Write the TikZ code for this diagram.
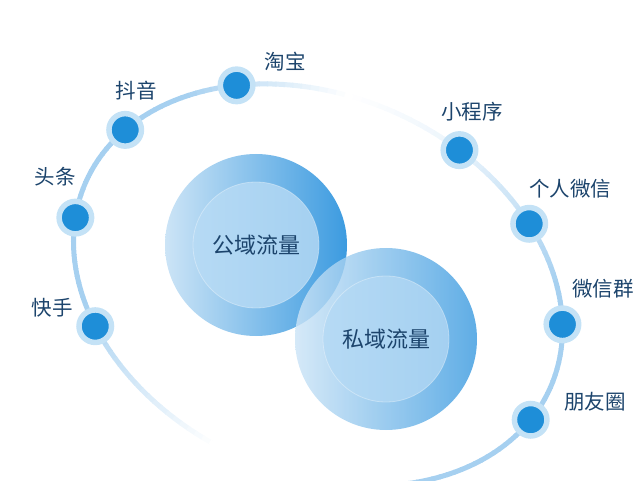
\documentclass[tikz,border=0pt]{standalone}
\usepackage{fontspec}
\setmainfont{Noto Sans CJK SC}
\usetikzlibrary{positioning}
\definecolor{textnavy}{RGB}{28,68,108}
\definecolor{dotblue}{RGB}{30,142,216}
\definecolor{ringblue}{RGB}{196,226,246}
\definecolor{orbitblue}{RGB}{166,208,240}
\definecolor{discdark}{RGB}{60,155,224}
\definecolor{discmid}{RGB}{128,188,234}
\definecolor{disclight}{RGB}{204,228,246}
\definecolor{corelight}{RGB}{182,218,244}
\definecolor{coredark}{RGB}{164,208,241}
\tikzset{
  lbl/.style={font=\fontsize{20.5}{20.5}\selectfont, text=textnavy, inner sep=0pt},
  hub/.style={font=\fontsize{22}{22}\selectfont, text=textnavy, inner sep=0pt},
  dot/.style={circle, fill=dotblue, draw=ringblue, line width=5.5pt, minimum size=32.5pt, inner sep=0pt},
  disc/.style={circle, minimum size=182pt, inner sep=0pt, left color=disclight, middle color=discmid, right color=discdark},
  core/.style={circle, minimum size=126pt, inner sep=0pt, left color=corelight, right color=coredark, draw=white, draw opacity=0.35, line width=0.8pt},
  orbit/.style={line width=5pt, draw=orbitblue!#1!white},
}

\begin{document}
\begin{tikzpicture}[x=1pt,y=1pt]
  \useasboundingbox (0,0) rectangle (640,480);
  % orbit, fading out at the top and the lower left
  \begin{scope}[shift={(318,195)},rotate=-23.9]
    \foreach \t in {-90,-88,...,268}{
      \pgfmathsetmacro\p{100*(\t<-70 ? 0 : (\t<-48 ? (\t+70)/22 : (\t<30 ? 1 : (\t<75 ? 1-0.8*(\t-30)/45 : (\t<100 ? 0.2-0.2*(\t-75)/25 : (\t<140 ? (\t-100)/40 : (\t<215 ? 1 : (\t<262 ? 1-(\t-215)/47 : 0))))))))}
      \draw[orbit=\p] plot[domain=\t:\t+2.3,samples=4] ({254*cos(\x)},{189*sin(\x)});
    }
    \foreach \n/\t in {douyin/160.3,taobao/127.7,xcx/72.9,grwx/48.5,wxq/19.5,pyq/-11.3,kuaishou/222.6,toutiao/191.2}
      \node[dot] (\n) at ({254*cos(\t)},{189*sin(\t)}) {};
  \end{scope}
  % channel labels
  \node[lbl] (lbl-taobao) at (285,418) {淘宝};
  \node[lbl] (lbl-douyin) at (136,389) {抖音};
  \node[lbl] (lbl-toutiao) at (55,303) {头条};
  \node[lbl] (lbl-kuaishou) at (52,172) {快手};
  \node[lbl] (lbl-xcx) at (472,368) {小程序};
  \node[lbl] (lbl-grwx) at (570,291) {个人微信};
  \node[lbl] (lbl-wxq) at (603,191) {微信群};
  \node[lbl] (lbl-pyq) at (595,78) {朋友圈};
  % the two traffic pools
  \node[disc] (public) at (256,235) {};
  \node[core] (public-core) at (256,235) {};
  \node[disc, opacity=0.82] (private) at (386,141) {};
  \node[core] (private-core) at (386,141) {};
  \node[hub] at (public-core) {公域流量};
  \node[hub] at (private-core) {私域流量};
\end{tikzpicture}
\end{document}
